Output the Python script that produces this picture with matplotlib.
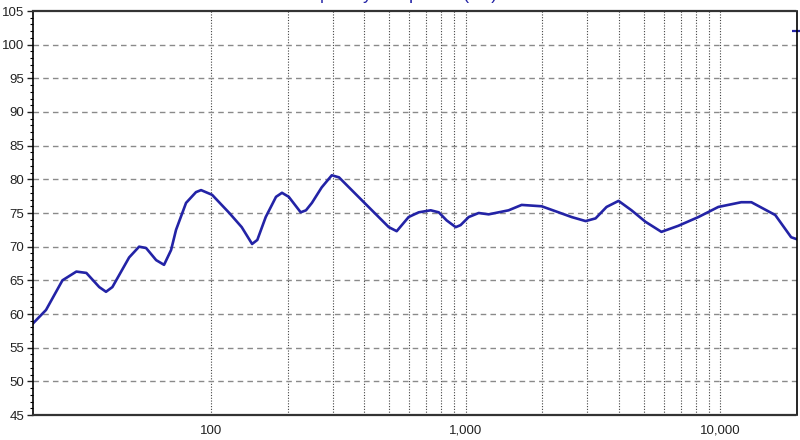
import numpy as np
import matplotlib.pyplot as plt
from matplotlib.ticker import FixedLocator, MultipleLocator, FuncFormatter

# frequency response (Hz, dB)
freq_hz = [20, 22.5, 26.1, 29.6, 32.4, 36.4, 38.7, 41, 47.7, 52.2, 55.6, 60.9, 65.4,
           69.7, 72.9, 79.8, 87.3, 91.4, 101, 118, 132, 145, 152, 164, 180, 190,
           202, 225, 236, 249, 272, 298, 318, 391, 499, 536, 597, 654, 729, 784,
           842, 914, 955, 1028, 1125, 1231, 1474, 1659, 1987, 2316, 2606, 2958,
           3236, 3575, 3984, 4480, 5080, 5870, 6840, 8200, 9820, 12080, 13240,
           16430, 18970, 20000]
level_db = [58.6, 60.6, 65.0, 66.3, 66.1, 64.0, 63.3, 64.0, 68.4, 70.0, 69.8, 68.0, 67.3,
            69.5, 72.5, 76.5, 78.1, 78.4, 77.7, 75.0, 72.9, 70.4, 71.0, 74.4, 77.4, 78.0,
            77.4, 75.1, 75.4, 76.5, 78.8, 80.6, 80.3, 76.9, 72.9, 72.3, 74.4, 75.1, 75.4, 75.1,
            73.9, 72.9, 73.2, 74.4, 75.0, 74.8, 75.4, 76.2, 76.0, 75.1, 74.4, 73.8,
            74.2, 75.9, 76.8, 75.4, 73.7, 72.2, 73.1, 74.4, 75.9, 76.6, 76.6,
            74.7, 71.4, 71.1]
cursor_db = 102

x_grid = [100, 200, 300, 400, 500, 600, 700, 800, 900,
          1000, 2000, 3000, 4000, 5000, 6000, 7000, 8000, 9000, 10000]
x_labels = {100: "100", 1000: "1,000", 10000: "10,000"}

blue = "#2323a6"

plt.rcParams['font.family'] = ['Liberation Sans', 'DejaVu Sans']
fig = plt.figure(figsize=(8, 4.4), dpi=100)
ax = fig.add_axes([33 / 800, 25 / 440, 764 / 800, 404 / 440])

ax.set_xscale('log')
ax.set_xlim(20, 20000)
ax.set_ylim(45, 105)

ax.plot(freq_hz, level_db, color=blue, lw=1.9, solid_joinstyle='round')
ax.plot([20000], [cursor_db], marker='_', ms=7, mew=1.6, color=blue, clip_on=False)

# grid
for f in x_grid:
    ax.axvline(f, color='#444444', lw=0.8, ls=(0, (1, 1.5)), zorder=0)
for v in range(50, 105, 5):
    ax.axhline(v, color='#8a8a8a', lw=1.0, ls=(0, (4, 3)), zorder=0)

ax.xaxis.set_major_locator(FixedLocator([100, 1000, 10000]))
ax.xaxis.set_minor_locator(FixedLocator([]))
ax.xaxis.set_major_formatter(FuncFormatter(lambda v, p: x_labels.get(int(round(v)), "")))
ax.yaxis.set_major_locator(MultipleLocator(5))
ax.yaxis.set_minor_locator(MultipleLocator(1))
ax.tick_params(axis='x', length=0, pad=7, labelsize=9.5, colors='#222222')
ax.tick_params(axis='y', which='major', length=4.5, width=1, pad=2, labelsize=9.5, colors='#222222')
ax.tick_params(axis='y', which='minor', length=2.5, width=0.8)

for s in ['left', 'right']:
    ax.spines[s].set_linewidth(1.2)
for s in ['top', 'bottom']:
    ax.spines[s].set_linewidth(1.6)
    ax.spines[s].set_linestyle((0, (3, 1)))
    ax.spines[s].set_color('#333333')

fig.text(392 / 800, 1 + 1 / 440, "Frequency Response (dB)", ha='center', va='baseline',
         fontsize=13, color=blue)

fig.savefig('out.png', dpi=100)
